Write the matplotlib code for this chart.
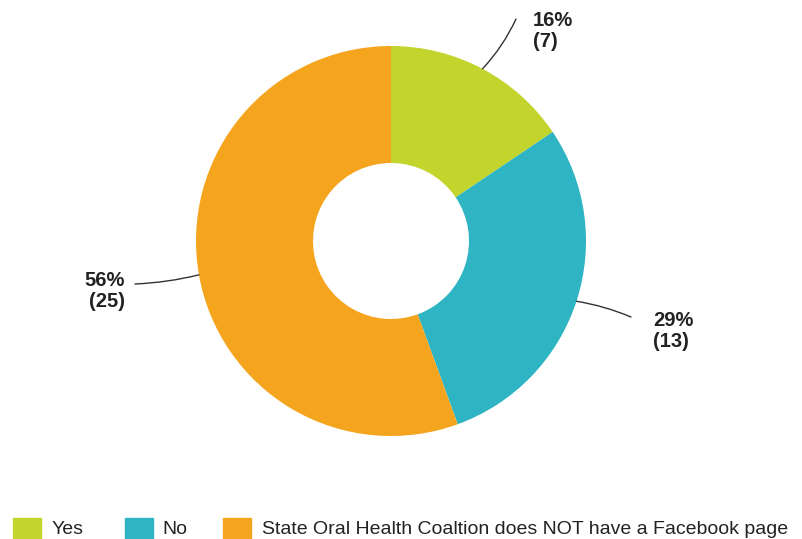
import numpy as np
import matplotlib.pyplot as plt
from matplotlib.patches import Rectangle

plt.rcParams['font.family'] = ['Liberation Sans', 'DejaVu Sans']

labels = ['Yes', 'No', 'State Oral Health Coaltion does NOT have a Facebook page']
counts = [7, 13, 25]
colors = ['#C3D52C', '#2EB4C2', '#F5A41E']

W, H = 803, 539
fig = plt.figure(figsize=(W / 100, H / 100), dpi=100)
ax = fig.add_axes([0, 0, 1, 1])

cx, cy = 391, H - 241
r_out, r_in = 195, 78

wedges, _ = ax.pie(counts, colors=colors, startangle=90, counterclock=False,
                   center=(cx, cy), radius=r_out, frame=True,
                   wedgeprops=dict(width=r_out - r_in, linewidth=0))
ax.set_xlim(0, W)
ax.set_ylim(0, H)
ax.set_aspect('equal')
ax.axis('off')

total = sum(counts)
# where each label sits and where its leader line stops
text_pos = [(533, H - 11), (653, H - 311), (125, H - 271)]
line_end = [(516, H - 19), (631, H - 317), (135, H - 284)]
aligns = ['left', 'left', 'right']
rads = [-0.08, 0.06, 0.05]
for w, n, tp, le, ha, rd in zip(wedges, counts, text_pos, line_end, aligns, rads):
    mid = np.deg2rad((w.theta1 + w.theta2) / 2)
    px = cx + r_out * np.cos(mid)
    py = cy + r_out * np.sin(mid)
    ax.annotate('', xy=(px, py), xytext=le,
                arrowprops=dict(arrowstyle='-', color='#333333', lw=1,
                                shrinkA=0, shrinkB=0,
                                connectionstyle=f'arc3,rad={rd}'))
    pct = round(100 * n / total)
    ax.text(tp[0], tp[1], f'{pct}%\n({n})', ha=ha, va='top',
            fontsize=14.5, fontweight='bold', color='#222222', linespacing=1.15)

# legend row along the bottom edge
box_x = [13, 125, 223]
text_x = [52, 162, 262]
for bx, tx, c, lab in zip(box_x, text_x, colors, labels):
    ax.add_patch(Rectangle((bx, -4), 28, 25, color=c, clip_on=False))
    ax.text(tx, 10, lab, ha='left', va='center', fontsize=14, color='#222222')

fig.savefig('out.png', dpi=100, facecolor='white')
